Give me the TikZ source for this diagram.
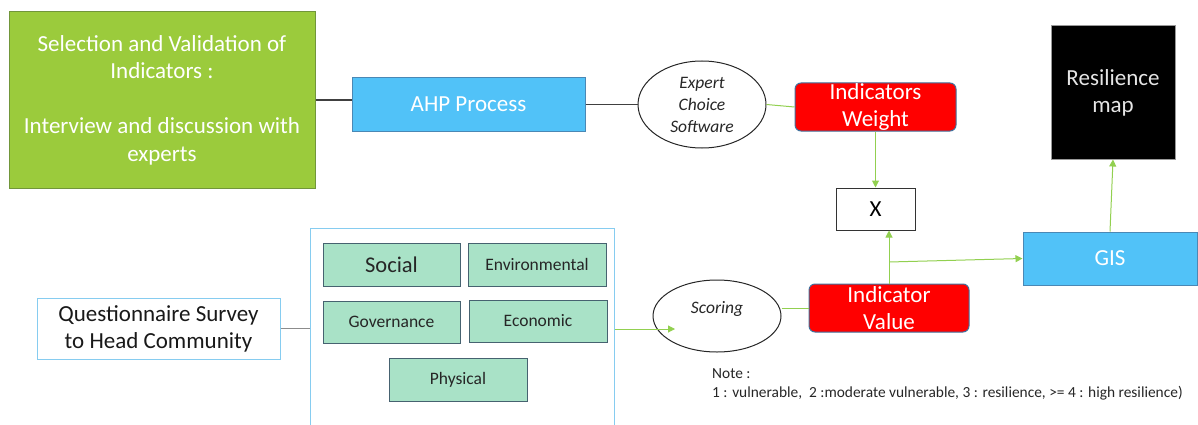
\documentclass[tikz,border=0pt]{standalone}
\usepackage{fontspec}
\setmainfont{Carlito}
\usetikzlibrary{shapes.geometric,arrows.meta}

\definecolor{leaf}{HTML}{9BCB3C}
\definecolor{leafedge}{HTML}{71963A}
\definecolor{sky}{HTML}{51C2F8}
\definecolor{skyedge}{HTML}{4A88B5}
\definecolor{paleedge}{HTML}{86CCF0}
\definecolor{mint}{HTML}{A9E2C7}
\definecolor{mintedge}{HTML}{466270}
\definecolor{slateedge}{HTML}{41719C}
\definecolor{wire}{HTML}{92D050}
\definecolor{darkwire}{HTML}{404040}

\tikzset{
  box/.style={rectangle, inner sep=0pt, align=center, line width=1pt},
  bigtext/.style={font=\fontsize{23}{27}\selectfont},
  midtext/.style={font=\fontsize{17.5}{21}\selectfont},
  greenbox/.style={box, font=\fontsize{23}{27.5}\selectfont, draw=leafedge, fill=leaf, text=white},
  bluebox/.style={box, bigtext, draw=skyedge, fill=sky, text=white},
  redbox/.style={box, draw=slateedge, fill=red, rounded corners=6pt},
  catbox/.style={box, midtext, draw=mintedge, fill=mint, text=black!85},
  oval/.style={ellipse, draw=black!85, line width=1pt, inner sep=0pt, align=center,
    font=\fontsize{17.5}{22}\selectfont\itshape, text=black!85},
  greyline/.style={draw=darkwire, line width=1.3pt},
  greenline/.style={draw=wire, line width=1pt},
  greenarrow/.style={greenline, -{Triangle[width=7pt,length=7pt]}},
}

\begin{document}
\begin{tikzpicture}[x=1pt,y=-1pt]
\useasboundingbox (0,0) rectangle (1198,425);
\clip (0,0) rectangle (1198,425);

% upper row: indicator weighting
\node[greenbox, minimum width=306pt, minimum height=176pt] (sel) at (162,100)
  {Selection and Validation of\\Indicators :\\[27.5pt]Interview and discussion with\\experts};
\node[bluebox, minimum width=233pt, minimum height=53pt] (ahp) at (468.5,104.5) {AHP Process};
\node[oval, minimum width=128pt, minimum height=87pt] (ecs) at (702,104.5) {Expert\\Choice\\Software};
\node[redbox, minimum width=161pt, minimum height=48pt,
  label={[name=iwtext, bigtext, text=white, align=center]center:{Indicators\\Weight}}] (iw) at (875.5,107) {};
\node[box, draw=black!80, fill=white, bigtext, minimum width=79pt, minimum height=42pt] (mul) at (875.5,209) {X};
\node[box, bigtext, draw=black!40, fill=black, text=white!90!black, minimum width=124pt, minimum height=133pt] (res) at (1113,92.5) {Resilience\\map};

% lower row: survey and scoring
\node[box, bigtext, draw=paleedge, fill=white, text=black!90, minimum width=243pt, minimum height=61pt] (qs) at (158.5,328.5)
  {Questionnaire Survey\\to Head Community};
\node[box, draw=paleedge, minimum width=304pt, minimum height=216pt] (dims) at (462,336) {};
\node[catbox, font=\fontsize{22.5}{26}\selectfont, minimum width=137pt, minimum height=43pt] (soc) at (391.5,264.5) {Social};
\node[catbox, minimum width=138pt, minimum height=43pt] (env) at (537,264.5) {Environmental};
\node[catbox, minimum width=137pt, minimum height=42pt] (gov) at (391.5,322) {Governance};
\node[catbox, minimum width=138pt, minimum height=42pt] (eco) at (538,321) {Economic};
\node[catbox, minimum width=138pt, minimum height=43pt] (phy) at (458,379.5) {Physical};
\node[oval, minimum width=128pt, minimum height=72pt,
  label={[name=sctext, yshift=7pt, font=\fontsize{17.5}{22}\selectfont\itshape, text=black!85]center:Scoring}] (sc) at (717,316) {};
\node[redbox, minimum width=160pt, minimum height=48pt,
  label={[name=ivtext, bigtext, text=white, align=center]center:{Indicator\\Value}}] (iv) at (889,308) {};
\node[bluebox, minimum width=174pt, minimum height=53pt] (gis) at (1110,258.5) {GIS};

\node[anchor=west, align=left, inner sep=0pt, font=\fontsize{15.4}{19}\selectfont, text=black!85] (note) at (712,384)
  {Note :\\1 : vulnerable,\ \ 2 :moderate vulnerable, 3 : resilience, >= 4 : high resilience)};

% connectors
\coordinate (scin) at (675,329);
\coordinate (split) at (889,262);

\draw[greyline] (sel.east) -- (sel.east -| ahp.west);
\draw[greyline] (ahp.east) -- (ecs.west);
\draw[greenline] (ecs.east) -- (iw.west);
\draw[greenarrow] (iw.south) -- (mul.north);
\draw[greenarrow] (iv.north) -- (iv.north |- mul.south);
\draw[greenarrow] (split) -- (gis.west);
\draw[greenarrow] (gis.north) -- (res.south);

\draw[draw=black!45, line width=1.3pt] (qs.east) -- (qs.east -| dims.west);
\draw[greenarrow] (dims.east |- scin) -- (scin);
\draw[greenline] (sc.east |- iv.west) -- (iv.west);
\end{tikzpicture}
\end{document}
